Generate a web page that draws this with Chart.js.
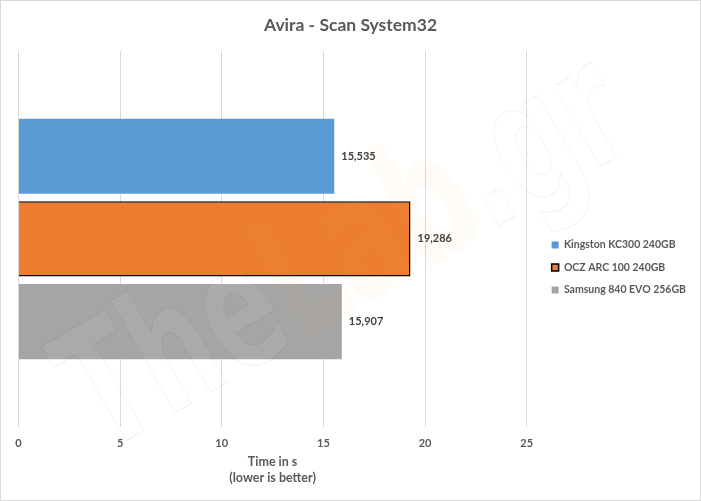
<!DOCTYPE html>
<html>
<head>
<meta charset="utf-8">
<style>
  html, body { margin: 0; padding: 0; background: #fff; }
  #wrap { width: 701px; height: 501px; }
</style>
<script src="https://cdn.jsdelivr.net/npm/chart.js@4"></script>
</head>
<body>
<div id="wrap"><canvas id="chart" width="701" height="501"></canvas></div>
<script>
// Data
const categories = ['Avira - Scan System32'];
const seriesNames = ['Kingston KC300 240GB', 'OCZ ARC 100 240GB', 'Samsung 840 EVO 256GB'];
const kingstonValues = [15.535];
const oczValues = [19.286];
const samsungValues = [15.907];
const seriesColors = ['#5b9bd5', '#ed7d31', '#a5a5a5'];

const fontFamily = 'Lato, "Open Sans", sans-serif';
const textColor = '#595959';

// Faint site logo that lies over the plot
function drawWatermark(ctx) {
  ctx.save();
  ctx.translate(103, 454);
  ctx.rotate(-30 * Math.PI / 180);
  ctx.scale(0.64, 1);
  ctx.font = 'bold 170px "DejaVu Sans"';
  ctx.textBaseline = 'alphabetic';
  ctx.lineWidth = 1;
  let x = 0;
  [['The', 'rgba(255,255,255,0.06)', 'rgba(0,0,0,0.07)'],
   ['Lab', 'rgba(250,170,90,0.05)', 'rgba(250,170,90,0.05)'],
   ['.gr', 'rgba(255,255,255,0.06)', 'rgba(0,0,0,0.06)']].forEach(([text, fill, stroke]) => {
    ctx.fillStyle = fill;
    ctx.strokeStyle = stroke;
    ctx.fillText(text, x, 0);
    ctx.strokeText(text, x, 0);
    x += ctx.measureText(text).width;
  });
  ctx.restore();
}

const excelLook = {
  id: 'excelLook',
  // move title and legend to where they sit in the original
  afterLayout(chart) {
    const title = chart.titleBlock;
    const shift = 350.5 - (title.left + title.right) / 2;
    title.left += shift;
    title.right += shift;
    chart.legend.top += 24.5;
    chart.legend.bottom += 24.5;
    chart.legend.left += 13;
    chart.legend.right += 13;
  },
  afterDatasetsDraw(chart) {
    const ctx = chart.ctx;
    drawWatermark(ctx);
    ctx.save();
    ctx.font = 'bold 11px ' + fontFamily;
    ctx.fillStyle = '#404040';
    ctx.textAlign = 'left';
    ctx.textBaseline = 'middle';
    chart.data.datasets.forEach((ds, i) => {
      const bar = chart.getDatasetMeta(i).data[0];
      ctx.fillText(ds.data[0].toFixed(3).replace('.', ','), bar.x + 7, bar.y);
    });
    ctx.restore();
  },
  afterDraw(chart) {
    const ctx = chart.ctx;
    ctx.save();
    ctx.strokeStyle = '#d9d9d9';
    ctx.lineWidth = 1;
    ctx.strokeRect(0.5, 0.5, chart.width - 1, chart.height - 1);
    ctx.restore();
  }
};

new Chart(document.getElementById('chart').getContext('2d'), {
  type: 'bar',
  data: {
    labels: categories,
    datasets: [
      { label: seriesNames[0], data: kingstonValues, backgroundColor: seriesColors[0], borderWidth: 0 },
      { label: seriesNames[1], data: oczValues, backgroundColor: seriesColors[1], borderColor: '#000', borderWidth: 1.5 },
      { label: seriesNames[2], data: samsungValues, backgroundColor: seriesColors[2], borderWidth: 0 }
    ]
  },
  plugins: [excelLook],
  options: {
    indexAxis: 'y',
    responsive: false,
    animation: false,
    devicePixelRatio: 1,
    layout: { padding: { left: 18.5, right: 18, top: 0, bottom: 15 } },
    categoryPercentage: 0.66,
    barPercentage: 0.909,
    plugins: {
      title: {
        display: true,
        text: categories[0],
        color: textColor,
        font: { family: fontFamily, size: 17.5, weight: 'bold' },
        padding: { top: 15, bottom: 15 }
      },
      legend: {
        position: 'right',
        labels: {
          boxWidth: 7,
          boxHeight: 7,
          padding: 12,
          color: textColor,
          font: { family: fontFamily, size: 10.5, weight: 'bold' }
        }
      },
      tooltip: { enabled: false }
    },
    scales: {
      x: {
        min: 0,
        max: 25,
        ticks: {
          stepSize: 5,
          padding: 10,
          maxRotation: 0,
          color: textColor,
          font: { family: fontFamily, size: 11, weight: 'bold' }
        },
        grid: { color: '#d9d9d9', lineWidth: 1, drawTicks: false },
        border: { display: false },
        title: {
          display: true,
          text: ['Time in s', '(lower is better)'],
          color: textColor,
          font: { family: fontFamily, size: 12.5, weight: 'bold', lineHeight: 1.28 },
          padding: { top: -6, bottom: 0 }
        }
      },
      y: { display: false }
    }
  }
});
</script>
</body>
</html>
